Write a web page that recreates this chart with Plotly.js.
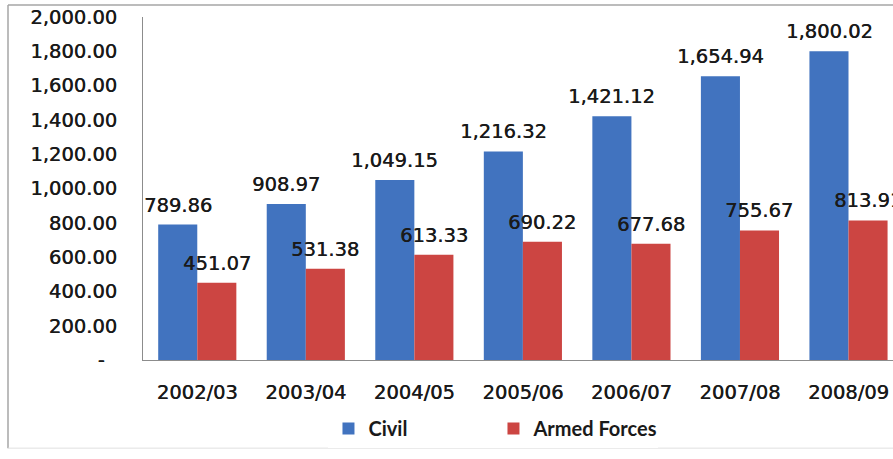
<!DOCTYPE html>
<html>
<head>
<meta charset="utf-8">
<script src="https://cdn.plot.ly/plotly-3.0.1.min.js"></script>
<style>html,body{margin:0;padding:0;background:#fff;}#chart{width:893px;height:459px;}</style>
</head>
<body>
<div id="chart"></div>
<script>
const categories = ["2002/03","2003/04","2004/05","2005/06","2006/07","2007/08","2008/09"];
const civil = [789.86, 908.97, 1049.15, 1216.32, 1421.12, 1654.94, 1800.02];
const armedForces = [451.07, 531.38, 613.33, 690.22, 677.68, 755.67, 813.91];
const yTickVals = [0,200,400,600,800,1000,1200,1400,1600,1800,2000];
const yTickText = ["-\u00a0\u00a0","200.00","400.00","600.00","800.00","1,000.00","1,200.00","1,400.00","1,600.00","1,800.00","2,000.00"];

const fmt = v => v.toLocaleString('en-US',{minimumFractionDigits:2,maximumFractionDigits:2});
const mainFont = {family:"DejaVu Sans", size:19.5, color:"#1a1a1a", shadow:"0.4px 0 0 #1a1a1a"};

const traces = [
  {type:"bar", name:"Civil", x:categories, y:civil, marker:{color:"#4173bf"}},
  {type:"bar", name:"Armed Forces", x:categories, y:armedForces, marker:{color:"#cc4542"}}
];

const annotations = [];
categories.forEach((c,i)=>{
  annotations.push({x:c, y:civil[i], text:fmt(civil[i]), showarrow:false, xshift:-19.5, yanchor:"bottom", yshift:6, font:mainFont});
  annotations.push({x:c, y:armedForces[i], text:fmt(armedForces[i]), showarrow:false, xshift:19.5, yanchor:"bottom", yshift:6, font:mainFont});
});

const layout = {
  width:893, height:459,
  margin:{l:143, r:0, t:17, b:99, pad:0},
  paper_bgcolor:"#ffffff", plot_bgcolor:"#ffffff",
  barmode:"group", bargap:0.28, bargroupgap:0,
  showlegend:true,
  legend:{orientation:"h", x:0.2473, y:-0.2, yanchor:"middle", xanchor:"left",
          entrywidth:120, entrywidthmode:"pixels",
          font:{family:"Lato", size:20, color:"#1a1a1a", weight:"bold"}, traceorder:"normal"},
  xaxis:{type:"category", range:[-0.5,6.41], showline:true, linecolor:"#8c8c8c", linewidth:1,
         ticks:"", showgrid:false, zeroline:false, ticklabelstandoff:15,
         tickfont:mainFont},
  yaxis:{range:[0,2000], tickvals:yTickVals, ticktext:yTickText, showline:true, linecolor:"#8c8c8c", linewidth:1,
         ticks:"", showgrid:false, zeroline:false, ticklabelstandoff:21,
         tickfont:mainFont},
  annotations:annotations,
  shapes:[
    {type:"line", xref:"paper", yref:"paper", x0:-0.18, x1:1.01, y0:1.035, y1:1.035, line:{color:"#a6a6a6", width:1.5}},
    {type:"line", xref:"paper", yref:"paper", x0:-0.18, x1:-0.18, y0:1.035, y1:-0.257, line:{color:"#a6a6a6", width:1.5}},
    {type:"line", xref:"paper", yref:"paper", x0:-0.18, x1:1.01, y0:-0.257, y1:-0.257, line:{color:"#e0e0e0", width:1}}
  ]
};

Plotly.newPlot("chart", traces, layout, {displayModeBar:false, staticPlot:true});
</script>
</body>
</html>
